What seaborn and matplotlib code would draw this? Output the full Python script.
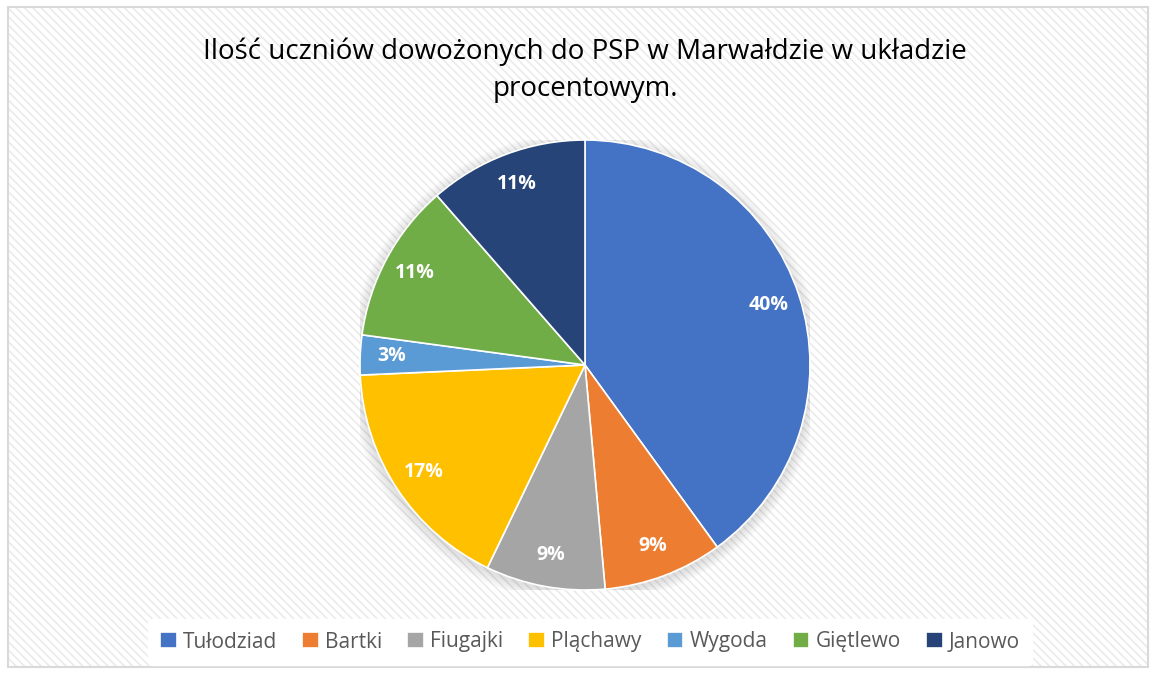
import matplotlib
matplotlib.use("Agg")
import matplotlib.pyplot as plt
import seaborn as sns
from matplotlib.patches import Rectangle, Circle

categories = ["Tułodziad", "Bartki", "Fiugajki", "Pląchawy", "Wygoda", "Giętlewo", "Janowo"]
values = [14, 3, 3, 6, 1, 4, 4]
colors_hex = ["#4472C4", "#ED7D31", "#A5A5A5", "#FFC000", "#5B9BD5", "#70AD47", "#264478"]
title = "Ilość uczniów dowożonych do PSP w Marwałdzie w układzie\nprocentowym."

sns.set_theme(style="white")
plt.rcParams['font.family'] = ['Open Sans', 'DejaVu Sans']
plt.rcParams['hatch.linewidth'] = 1.2
palette = sns.color_palette(colors_hex)

fig = plt.figure(figsize=(11.51, 6.75), dpi=100)
fig.patch.set_facecolor("white")

# striped chart background with border
bg = Rectangle((8/1151, 8/675), 1140/1151, 660/675, transform=fig.transFigure,
               facecolor="white", edgecolor="#ebebeb", hatch="\\\\\\\\", linewidth=0, zorder=-5)
fig.patches.append(bg)
border = Rectangle((8/1151, 8/675), 1140/1151, 660/675, transform=fig.transFigure,
                   facecolor="none", edgecolor="#d9d9d9", linewidth=1.5, zorder=-4)
fig.patches.append(border)

ax = fig.add_axes([(585-225)/1151, (675-590)/675, 450/1151, 450/675])
ax.set_facecolor("none")
ax.set_zorder(2)

# soft shadow
for i in range(5):
    ax.add_patch(Circle((0.0, -0.012), 1.0 + 0.01*(i+1), color="black", alpha=0.025, zorder=0, lw=0))

wedges, texts, autotexts = ax.pie(values, colors=palette, startangle=90, counterclock=False,
                                  autopct="%1.0f%%", pctdistance=0.86,
                                  wedgeprops=dict(edgecolor="white", linewidth=1.2),
                                  textprops=dict(color="white", fontsize=14, fontweight="bold"))
ax.set_aspect("equal")
ax.set_xlim(-1.0, 1.0)
ax.set_ylim(-1.0, 1.0)
ax.axis("off")

fig.text(585/1151, 1 - 70/675, title, ha="center", va="center", fontsize=20,
         color="black", linespacing=1.45)

leg = fig.legend(wedges, categories, loc="center", bbox_to_anchor=(590/1151, 1 - 642/675),
                 ncol=7, frameon=True, fontsize=15, handlelength=0.8, handleheight=0.8,
                 handletextpad=0.3, columnspacing=1.2, borderpad=0.6)
leg.get_frame().set_facecolor("white")
leg.get_frame().set_edgecolor("white")
leg.get_frame().set_alpha(1.0)
leg.set_zorder(3)
for t in leg.get_texts():
    t.set_color("#595959")

fig.savefig("out.png", dpi=100, facecolor="white")
